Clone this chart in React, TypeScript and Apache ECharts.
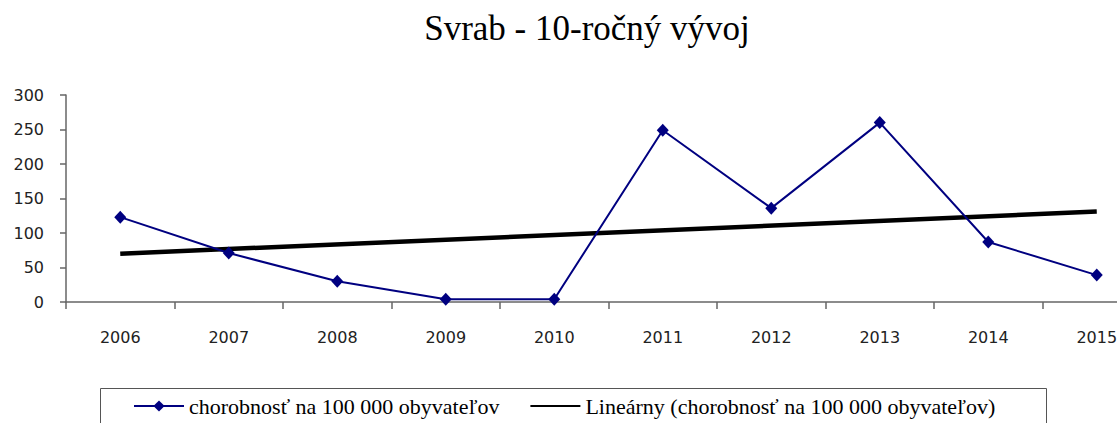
import React, { useEffect, useRef } from "react";
import * as echarts from "echarts";

const categories = ["2006", "2007", "2008", "2009", "2010", "2011", "2012", "2013", "2014", "2015"];
const incidence = [123, 71, 30, 4, 4, 249, 136, 260, 87, 39];
const trendEnds = [70, 131];
const yTicks = { min: 0, max: 300, interval: 50 };
const titleText = "Svrab - 10-ročný vývoj";
const seriesName = "chorobnosť na 100 000 obyvateľov";
const trendName = "Lineárny (chorobnosť na 100 000 obyvateľov)";

export default function App() {
  const ref = useRef<HTMLDivElement>(null);
  useEffect(() => {
    if (!ref.current) return;
    const chart = echarts.init(ref.current, undefined, { renderer: "svg" });
    const trendData = categories.map((_, i) =>
      i === 0 ? trendEnds[0] : i === categories.length - 1 ? trendEnds[1] : null
    );
    chart.setOption({
      animation: false,
      backgroundColor: "#ffffff",
      graphic: [
        {
          type: "text",
          x: 587,
          y: 11,
          style: {
            text: titleText,
            fontFamily: "Liberation Serif",
            fontSize: 35,
            fill: "#000",
            textAlign: "center",
            textVerticalAlign: "top",
          },
        },
        {
          type: "rect",
          shape: { x: 100.5, y: 388.5, width: 946, height: 60 },
          style: { fill: "none", stroke: "#555", lineWidth: 1 },
        },
      ],
      legend: {
        left: 128,
        top: 393,
        padding: [2, 5, 0, 5],
        itemWidth: 50,
        itemHeight: 14,
        itemGap: 30,
        textStyle: { fontFamily: "Liberation Serif", fontSize: 22, color: "#000" },
        data: [
          { name: seriesName },
          { name: trendName, itemStyle: { color: "transparent", borderWidth: 0, opacity: 0 } },
        ],
      },
      grid: { left: 66, right: 0, top: 95, bottom: 121, containLabel: false },
      xAxis: {
        type: "category",
        data: categories,
        boundaryGap: true,
        axisLine: { lineStyle: { color: "#666", width: 1.5 } },
        axisTick: { show: true, length: 7, alignWithLabel: false, lineStyle: { color: "#666", width: 1.5 } },
        axisLabel: { fontFamily: "DejaVu Sans", fontSize: 16, color: "#222", margin: 27, interval: 0 },
        splitLine: { show: false },
      },
      yAxis: {
        type: "value",
        min: yTicks.min,
        max: yTicks.max,
        interval: yTicks.interval,
        axisLine: { show: true, lineStyle: { color: "#666", width: 1.5 } },
        axisTick: { show: true, length: 6, lineStyle: { color: "#666", width: 1.5 } },
        axisLabel: { fontFamily: "DejaVu Sans", fontSize: 16, color: "#222", margin: 22 },
        splitLine: { show: false },
      },
      series: [
        {
          name: trendName,
          type: "line",
          data: trendData,
          connectNulls: true,
          symbol: "none",
          showSymbol: false,
          lineStyle: { color: "#000", width: 4.5 },
          itemStyle: { color: "#000" },
          z: 2,
        },
        {
          name: seriesName,
          type: "line",
          data: incidence,
          symbol: "diamond",
          symbolSize: [12, 13],
          lineStyle: { color: "#000080", width: 2 },
          itemStyle: { color: "#000080" },
          z: 3,
        },
      ],
    });
    return () => chart.dispose();
  }, []);
  return (
    <div style={{ position: "fixed", left: 0, top: 0, width: 1117, height: 423, overflow: "hidden", background: "#fff" }}>
      <div ref={ref} style={{ position: "absolute", left: 0, top: 0, width: 1151, height: 423 }} />
    </div>
  );
}
